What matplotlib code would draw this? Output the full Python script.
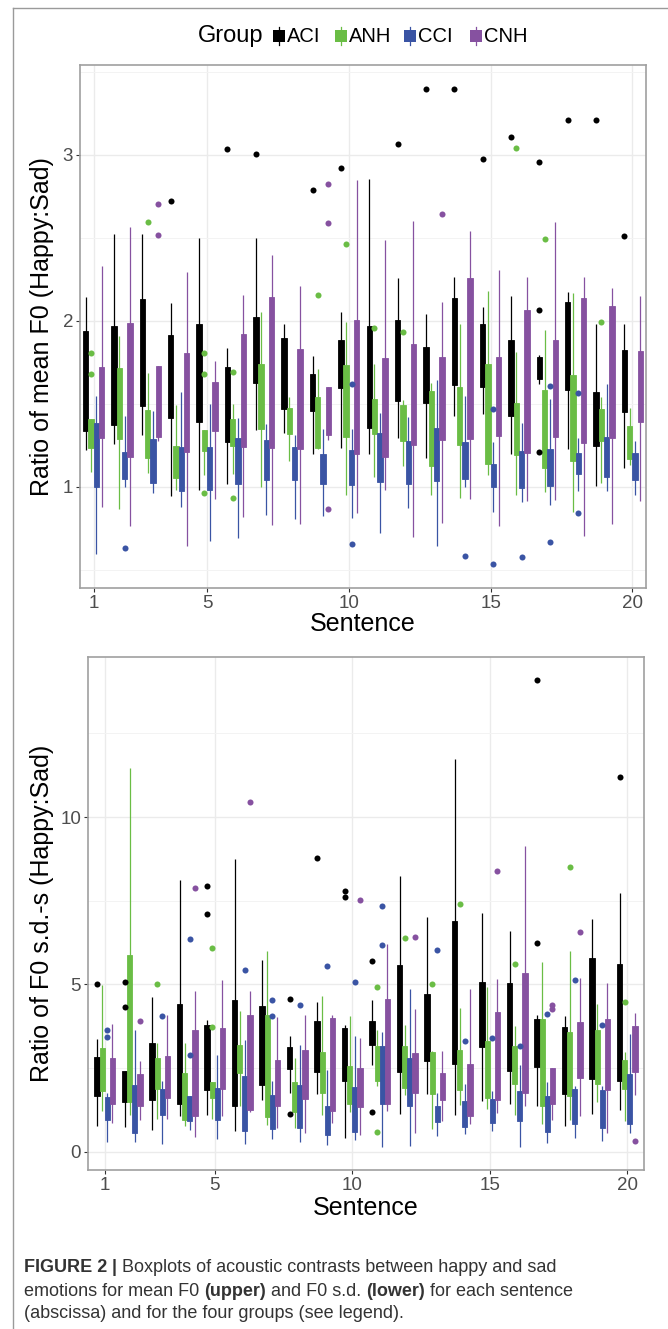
import matplotlib
matplotlib.use('Agg')
import matplotlib.pyplot as plt
from matplotlib.patches import Rectangle
from matplotlib.lines import Line2D
import numpy as np

plt.rcParams['font.family'] = ['Liberation Sans', 'DejaVu Sans']

groups = ['ACI', 'ANH', 'CCI', 'CNH']
colors = ['#000000', '#6abd45', '#3a54a4', '#8651a0']
sentences = list(range(1, 21))
x_ticks = [1, 5, 10, 15, 20]

# upper panel: ratio of mean F0, per sentence [whisker low, q1, q3, whisker high]
mean_ACI = [[1.221, 1.335, 1.940, 2.142], [1.256, 1.371, 1.969, 2.523], [1.313, 1.488, 2.131, 2.521],
            [0.944, 1.413, 1.913, 2.106], [0.979, 1.392, 1.979, 2.496], [1.017, 1.271, 1.723, 1.838],
            [1.340, 1.625, 2.023, 2.496], [1.325, 1.467, 1.896, 1.977], [1.194, 1.458, 1.679, 1.788],
            [1.235, 1.596, 1.881, 2.052], [1.194, 1.356, 1.965, 2.850], [1.292, 1.517, 2.006, 2.256],
            [1.173, 1.506, 1.844, 2.038], [1.427, 1.615, 2.138, 2.263], [1.440, 1.600, 1.981, 2.083],
            [1.194, 1.427, 1.881, 2.146], [1.617, 1.648, 1.781, 1.794], [1.225, 1.585, 2.110, 2.173],
            [1.006, 1.242, 1.573, 1.979], [1.110, 1.450, 1.825, 1.979]]
mean_ANH = [[1.090, 1.231, 1.408, 1.408], [0.863, 1.288, 1.713, 1.906], [1.083, 1.173, 1.460, 1.685],
            [0.979, 1.054, 1.246, 1.490], [1.069, 1.215, 1.344, 1.344], [1.079, 1.242, 1.410, 1.500],
            [0.996, 1.350, 1.740, 2.052], [1.156, 1.315, 1.473, 1.540], [1.225, 1.231, 1.542, 1.708],
            [0.950, 1.298, 1.733, 1.992], [1.058, 1.315, 1.527, 1.740], [1.125, 1.277, 1.492, 1.521],
            [0.950, 1.125, 1.575, 1.625], [0.933, 1.252, 1.600, 1.979], [1.073, 1.138, 1.740, 2.179],
            [0.950, 1.188, 1.502, 1.813], [0.965, 1.110, 1.583, 1.944], [0.846, 1.152, 1.673, 2.167],
            [1.021, 1.277, 1.465, 1.538], [1.131, 1.167, 1.365, 1.475]]
mean_CCI = [[0.596, 0.996, 1.385, 1.548], [0.996, 1.044, 1.208, 1.423], [0.963, 1.021, 1.290, 1.454],
            [0.877, 0.975, 1.240, 1.569], [0.673, 0.979, 1.240, 1.496], [0.688, 1.017, 1.292, 1.413],
            [0.829, 1.040, 1.283, 1.377], [0.808, 1.038, 1.240, 1.310], [0.825, 1.017, 1.194, 1.350],
            [0.813, 1.013, 1.219, 1.350], [0.719, 1.027, 1.323, 1.444], [0.871, 1.017, 1.277, 1.421],
            [0.642, 1.033, 1.356, 1.642], [0.996, 1.044, 1.267, 1.548], [0.850, 0.996, 1.138, 1.267],
            [0.908, 0.992, 1.215, 1.381], [0.892, 1.002, 1.225, 1.527], [0.975, 1.079, 1.200, 1.292],
            [0.975, 1.058, 1.298, 1.621], [0.950, 1.038, 1.204, 1.277]]
mean_CNH = [[0.877, 1.292, 1.719, 2.329], [0.763, 1.177, 1.985, 2.563], [1.277, 1.298, 1.729, 1.729],
            [0.642, 1.208, 1.804, 2.294], [0.923, 1.335, 1.631, 1.754], [0.817, 1.238, 1.919, 2.156],
            [0.771, 1.231, 2.144, 2.398], [0.777, 1.225, 1.829, 2.208], [1.283, 1.313, 1.600, 1.600],
            [0.840, 1.194, 2.002, 2.846], [0.979, 1.177, 1.775, 2.485], [0.694, 1.252, 1.860, 2.600],
            [0.781, 1.283, 1.781, 2.110], [0.923, 1.288, 2.256, 2.538], [0.763, 1.308, 1.783, 2.302],
            [0.913, 1.204, 2.063, 2.263], [0.917, 1.302, 1.881, 2.594], [0.704, 1.260, 2.135, 2.263],
            [0.773, 1.292, 2.085, 2.194], [0.913, 1.392, 1.815, 2.146]]

# outliers as (sentence, value)
mean_out_ACI = [(4, 2.721), (6, 3.033), (7, 3.004), (9, 2.788), (10, 2.921), (12, 3.065), (13, 3.396),
                (14, 3.396), (15, 2.971), (16, 3.106), (17, 2.954), (17, 2.065), (17, 1.210), (18, 3.208),
                (19, 3.208), (20, 2.510)]
mean_out_ANH = [(1, 1.806), (1, 1.677), (3, 2.596), (5, 1.806), (5, 1.677), (5, 0.960), (6, 1.692),
                (6, 0.929), (9, 2.156), (10, 2.460), (11, 1.954), (12, 1.933), (16, 3.042), (17, 2.492),
                (19, 1.990)]
mean_out_CCI = [(2, 0.629), (10, 1.617), (10, 0.656), (14, 0.585), (15, 1.465), (15, 0.533), (16, 0.579),
                (17, 1.604), (17, 0.667), (18, 1.563), (18, 0.840)]
mean_out_CNH = [(3, 2.704), (3, 2.517), (9, 2.825), (9, 2.590), (9, 0.863), (13, 2.642)]

# lower panel: ratio of F0 s.d.
sd_ACI = [[0.755, 1.660, 2.837, 3.370], [0.734, 1.489, 2.414, 2.414], [0.654, 1.539, 3.239, 4.628],
          [1.056, 1.429, 4.427, 8.129], [1.107, 1.841, 3.773, 3.924], [0.634, 1.378, 4.547, 8.732],
          [1.559, 1.982, 4.346, 5.714], [1.761, 2.465, 3.119, 3.471], [1.730, 2.384, 3.893, 4.477],
          [0.402, 2.113, 3.692, 3.773], [2.586, 3.189, 3.893, 4.527], [1.137, 2.384, 5.583, 8.229],
          [1.730, 2.716, 4.708, 7.022], [1.107, 2.616, 6.891, 11.74], [1.509, 3.119, 5.080, 7.143],
          [1.439, 2.414, 5.050, 6.610], [1.378, 2.545, 3.974, 4.074], [0.775, 1.730, 3.722, 4.044],
          [1.127, 2.183, 5.785, 6.962], [1.237, 2.113, 5.614, 7.726]]
sd_ANH = [[1.207, 1.811, 3.109, 4.980], [1.107, 1.489, 5.885, 11.47], [0.976, 1.881, 2.797, 3.239],
          [0.755, 0.936, 2.364, 3.239], [0.976, 1.610, 2.082, 2.082], [1.358, 2.364, 3.189, 4.195],
          [0.805, 1.026, 4.095, 6.006], [0.704, 1.177, 2.082, 2.787], [1.107, 1.761, 2.968, 4.658],
          [1.187, 1.429, 2.565, 4.044], [1.962, 2.113, 3.149, 3.652], [1.710, 1.891, 3.149, 3.773],
          [0.684, 1.730, 2.988, 3.018], [1.408, 1.841, 3.048, 4.306], [1.288, 1.610, 3.320, 4.909],
          [1.107, 2.012, 3.169, 3.742], [0.835, 1.378, 3.954, 5.654], [0.936, 1.680, 3.571, 6.006],
          [1.489, 2.012, 3.652, 4.427], [0.905, 1.881, 2.746, 2.988]]
sd_CCI = [[0.302, 0.936, 1.630, 1.761], [0.302, 0.573, 1.982, 3.642], [0.231, 1.097, 1.861, 2.113],
          [0.654, 0.905, 1.660, 1.660], [0.372, 0.936, 1.911, 2.887], [0.231, 0.634, 2.264, 3.340],
          [0.372, 0.674, 1.690, 2.113], [0.302, 0.704, 1.982, 3.189], [0.201, 0.503, 1.378, 2.435],
          [0.352, 0.604, 1.942, 3.471], [0.151, 1.439, 3.169, 3.571], [0.171, 1.358, 2.797, 4.849],
          [0.473, 0.875, 1.358, 1.740], [0.533, 0.734, 1.509, 2.032], [0.634, 0.855, 1.580, 1.811],
          [0.151, 0.926, 1.811, 2.596], [0.272, 0.604, 1.660, 2.093], [0.402, 0.835, 1.861, 1.962],
          [0.322, 0.724, 1.831, 1.962], [0.553, 0.835, 2.314, 3.521]]
sd_CNH = [[0.855, 1.439, 2.797, 3.823], [0.956, 1.358, 2.314, 2.716], [0.976, 1.610, 2.867, 4.074],
          [0.453, 1.076, 3.652, 4.809], [1.056, 1.861, 3.692, 5.131], [1.177, 1.258, 4.074, 4.809],
          [0.704, 1.378, 2.746, 4.024], [0.553, 1.590, 3.038, 4.095], [0.855, 1.207, 4.004, 4.095],
          [0.503, 1.338, 2.515, 3.400], [1.207, 1.439, 4.577, 6.217], [0.553, 1.740, 2.948, 4.256],
          [0.926, 1.559, 2.364, 3.018], [0.835, 1.076, 2.636, 4.849], [1.157, 1.559, 4.175, 5.151],
          [1.358, 1.740, 5.352, 9.125], [0.956, 1.429, 2.515, 2.515], [1.056, 2.213, 3.873, 5.181],
          [0.553, 1.841, 3.974, 5.030], [1.710, 2.384, 3.752, 4.155]]

sd_out_ACI = [(1, 5.01), (2, 5.07), (2, 4.326), (5, 7.948), (5, 7.113), (8, 4.577), (8, 1.127), (9, 8.783),
              (10, 7.777), (10, 7.616), (11, 5.684), (11, 1.177), (17, 14.085), (17, 6.237), (20, 11.197)]
sd_out_ANH = [(3, 5.01), (5, 6.087), (5, 3.722), (11, 4.930), (11, 0.583), (12, 6.378), (13, 5.020),
              (14, 7.414), (16, 5.604), (18, 8.521), (20, 4.477)]
sd_out_CCI = [(1, 3.642), (1, 3.441), (3, 4.054), (4, 6.358), (4, 2.897), (6, 5.433), (7, 4.527), (7, 4.054),
              (8, 4.376), (9, 5.563), (10, 5.080), (11, 7.344), (11, 6.177), (13, 6.026), (14, 3.320),
              (15, 3.390), (16, 3.169), (17, 4.105), (18, 5.131), (19, 3.773)]
sd_out_CNH = [(2, 3.903), (4, 7.877), (6, 10.463), (10, 7.525), (12, 6.429), (15, 8.390), (17, 4.376),
              (17, 4.256), (18, 6.569), (20, 0.332)]

W, H = 668, 1329
fig = plt.figure(figsize=(W / 100, H / 100), dpi=100)


def axes_px(left, top, right, bottom):
    return fig.add_axes([left / W, 1 - bottom / H, (right - left) / W, (bottom - top) / H])


def draw_panel(ax, boxes, outliers, yticks, yminor, xlim):
    offs = [-0.28, -0.095, 0.095, 0.28]
    allv = []
    for k, c in enumerate(colors):
        st = np.array(boxes[k])
        xs = np.array(sentences) + offs[k]
        ax.vlines(xs, st[:, 0], st[:, 3], color=c, lw=0.9, zorder=2 + k)
        ax.bar(xs, st[:, 2] - st[:, 1], bottom=st[:, 1], width=0.19, color=c,
               edgecolor=c, lw=0.6, zorder=2 + k)
        if outliers[k]:
            ox = [s + offs[k] for s, v in outliers[k]]
            oy = [v for s, v in outliers[k]]
            ax.scatter(ox, oy, s=19, color=c, lw=0, zorder=7)
            allv += oy
        allv += list(st.ravel())
    lo, hi = min(allv), max(allv)
    pad = 0.05 * (hi - lo)
    ax.set_ylim(lo - pad, hi + pad)
    ax.set_xlim(*xlim)
    ax.set_xticks(x_ticks)
    ax.set_yticks(yticks)
    ax.set_yticks(yminor, minor=True)
    ax.grid(True, which='major', color='#ebebeb', lw=1.0, zorder=0)
    ax.grid(True, which='minor', axis='y', color='#f3f3f3', lw=0.7, zorder=0)
    ax.set_axisbelow(True)
    for sp in ax.spines.values():
        sp.set_color('#a0a0a0')
        sp.set_linewidth(1.2)
    ax.tick_params(axis='both', which='major', length=3, width=0.8, color='#333333',
                   labelsize=13.5, labelcolor='#4d4d4d', pad=2)
    ax.tick_params(axis='y', which='minor', length=0)


ax1 = axes_px(80, 65, 646, 588)
draw_panel(ax1, [mean_ACI, mean_ANH, mean_CCI, mean_CNH],
           [mean_out_ACI, mean_out_ANH, mean_out_CCI, mean_out_CNH],
           [1, 2, 3], [0.5, 1.5, 2.5, 3.5], (0.52, 20.48))
ax1.set_ylabel('Ratio of mean F0 (Happy:Sad)', fontsize=18, va='center')
ax1.yaxis.set_label_coords(-0.067, 0.5)
ax1.set_xlabel('Sentence', fontsize=18, va='center')
ax1.xaxis.set_label_coords(0.5, -0.068)

ax2 = axes_px(88, 657, 644, 1170)
draw_panel(ax2, [sd_ACI, sd_ANH, sd_CCI, sd_CNH],
           [sd_out_ACI, sd_out_ANH, sd_out_CCI, sd_out_CNH],
           [0, 5, 10], [2.5, 7.5, 12.5], (0.39, 20.61))
ax2.set_ylabel('Ratio of F0 s.d.-s (Happy:Sad)', fontsize=18, va='center')
ax2.yaxis.set_label_coords(-0.083, 0.5)
ax2.set_xlabel('Sentence', fontsize=18, va='center')
ax2.xaxis.set_label_coords(0.5, -0.074)

# legend across the top
ly = 1 - 36 / H
fig.text(198 / W, ly, 'Group', fontsize=17, va='center', ha='left')
key_left = [273, 335, 404, 470]
for kx, g, c in zip(key_left, groups, colors):
    fig.add_artist(Rectangle((kx / W, ly - 6 / H), 12 / W, 12 / H, transform=fig.transFigure,
                             color=c, lw=0))
    fig.add_artist(Line2D([(kx + 6) / W] * 2, [ly - 9 / H, ly + 9 / H],
                          transform=fig.transFigure, color=c, lw=0.9))
    fig.text((kx + 14) / W, ly, g, fontsize=14.5, va='center', ha='left')

# outer frame
fig.add_artist(Line2D([13 / W, 13 / W], [0, 1 - 8 / H], transform=fig.transFigure, color='#9a9a9a', lw=1.0))
fig.add_artist(Line2D([13 / W, 1], [1 - 8 / H, 1 - 8 / H], transform=fig.transFigure, color='#9a9a9a', lw=1.0))

# caption with mixed weights
renderer = fig.canvas.get_renderer()


def rich_line(x_px, y_px, parts, size=13):
    x = x_px / W
    for txt, bold in parts:
        t = fig.text(x, 1 - y_px / H, txt, fontsize=size, va='center', ha='left',
                     fontweight='bold' if bold else 'normal', color='#333333')
        x += t.get_window_extent(renderer=renderer).width / W


rich_line(24, 1268, [('FIGURE 2', True), (' | ', True),
                     ('Boxplots of acoustic contrasts between happy and sad', False)])
rich_line(24, 1291, [('emotions for mean F0 ', False), ('(upper)', True), (' and F0 s.d. ', False),
                     ('(lower)', True), (' for each sentence', False)])
rich_line(24, 1313, [('(abscissa) and for the four groups (see legend).', False)])

fig.savefig('out.png', dpi=100)
